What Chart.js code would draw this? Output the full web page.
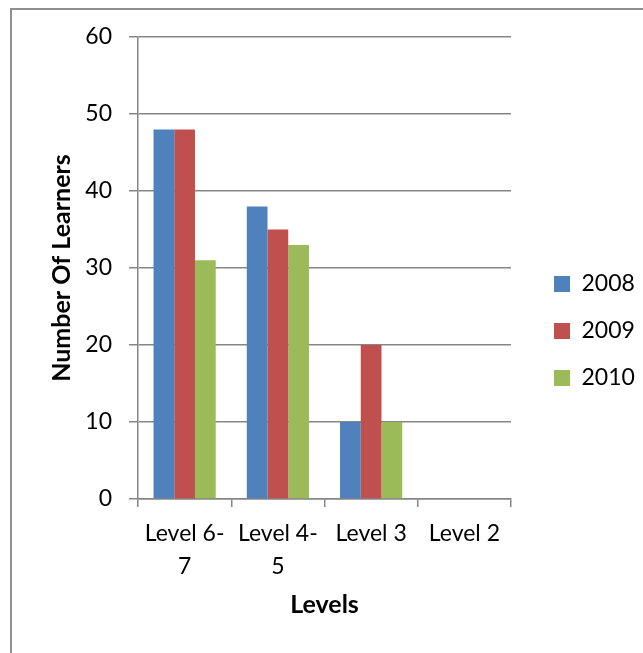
<!DOCTYPE html>
<html><head><meta charset="utf-8">
<script src="https://cdn.jsdelivr.net/npm/chart.js@4/dist/chart.umd.min.js"></script>
<style>
html,body{margin:0;padding:0;background:#fff;overflow:hidden}
#wrap{position:relative;width:643px;height:653px}
#frame{position:absolute;left:10px;top:8px;width:700px;height:700px;border:2px solid #8f8f8f;box-sizing:border-box;pointer-events:none}
canvas{position:absolute;left:0;top:0}
</style></head>
<body><div id="wrap"><canvas id="c" width="643" height="653"></canvas><div id="frame"></div></div>
<script>
const categories = [['Level 6-', '7'], ['Level 4-', '5'], 'Level 3', 'Level 2'];
const seriesNames = ['2008', '2009', '2010'];
const values2008 = [48, 38, 10, 0];
const values2009 = [48, 35, 20, 0];
const values2010 = [31, 33, 10, 0];
const yMin = 0, yMax = 60, yStep = 10;
const xTitle = 'Levels';
const yTitle = 'Number Of Learners';
const colors = ['#4F81BD', '#C0504D', '#9BBB59'];

const FONT = 'Lato';
const gridColor = '#868686';

new Chart(document.getElementById('c'), {
  type: 'bar',
  data: {
    labels: categories,
    datasets: [values2008, values2009, values2010].map((v, i) => ({
      label: seriesNames[i], data: v, backgroundColor: colors[i], borderWidth: 0,
      barPercentage: 1, categoryPercentage: 0.667
    }))
  },
  options: {
    responsive: false, animation: false, devicePixelRatio: 1,
    layout: { padding: { left: 0, top: 9, right: 7, bottom: 0 } },
    plugins: {
      tooltip: { enabled: false },
      legend: {
        position: 'right',
        labels: { boxWidth: 16, boxHeight: 16, padding: 24, color: '#000', font: { family: FONT, size: 23 } }
      }
    },
    scales: {
      x: {
        offset: true,
        grid: { offset: true, drawOnChartArea: false, drawTicks: true, tickLength: 8, color: gridColor, lineWidth: 1.5 },
        border: { color: gridColor, width: 1.5 },
        ticks: { color: '#000', font: { family: FONT, size: 23, lineHeight: 1.45 }, padding: 10, maxRotation: 0, autoSkip: false },
        title: { display: true, text: xTitle, color: '#000', font: { family: FONT, size: 25, weight: 'bold' }, padding: { top: 4, bottom: 33 } },
        afterFit: s => { s.height = 154; }
      },
      y: {
        min: yMin, max: yMax,
        grid: { color: gridColor, lineWidth: 1.5, tickLength: 9 },
        border: { color: gridColor, width: 1.5 },
        ticks: { stepSize: yStep, color: '#000', font: { family: FONT, size: 23 }, padding: 17 },
        title: { display: true, text: yTitle, color: '#000', font: { family: FONT, size: 25, weight: 'bold' }, padding: { top: 47, bottom: 4 } },
        afterFit: s => { s.width = 138; }
      },
      gapRight: {
        type: 'linear', axis: 'y', position: 'right', display: true,
        grid: { display: false }, ticks: { display: false }, border: { display: false },
        afterFit: s => { s.width = 19; }
      },
      gapTop: {
        type: 'linear', axis: 'x', position: 'top', display: true,
        grid: { display: false }, ticks: { display: false }, border: { display: false },
        afterFit: s => { s.height = 28; }
      }
    }
  }
});
</script>
</body></html>
